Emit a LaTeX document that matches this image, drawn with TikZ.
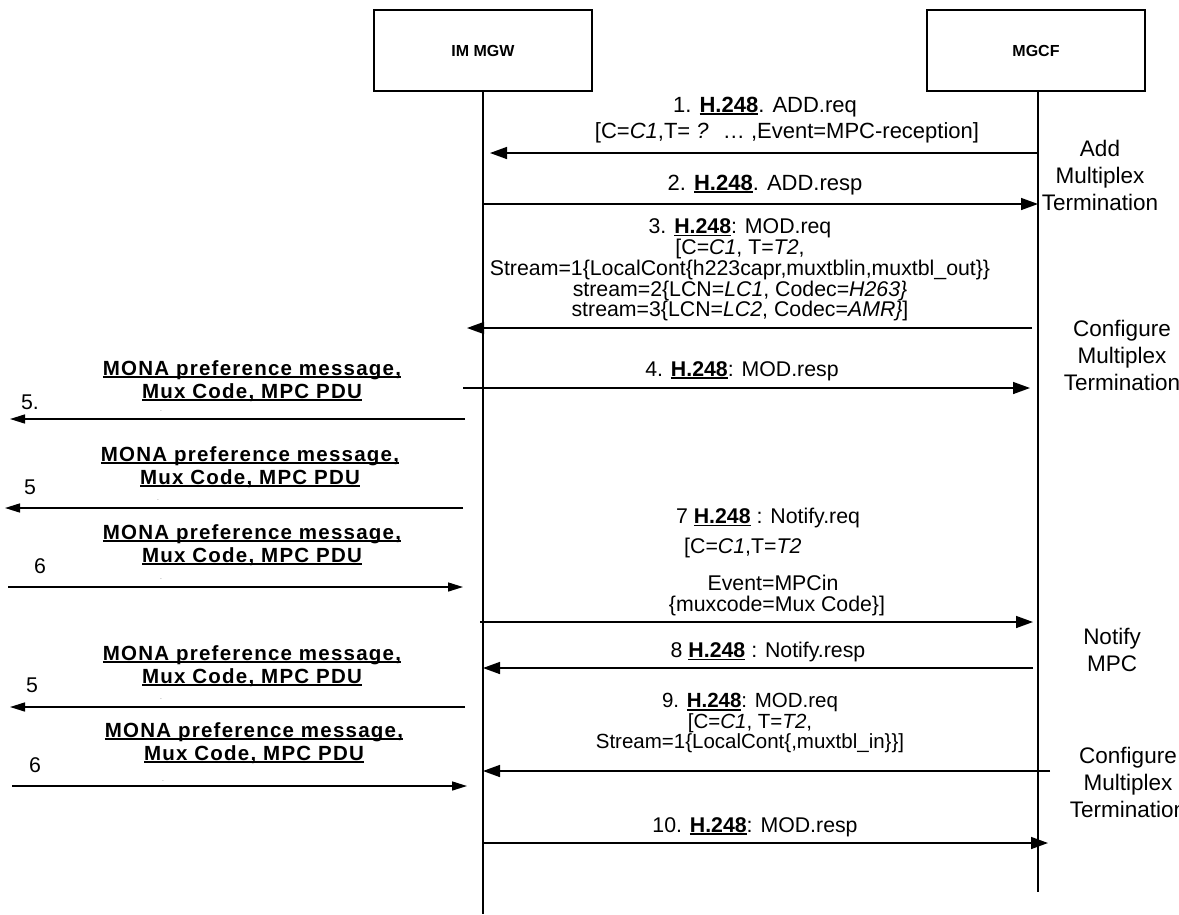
\documentclass[tikz,border=0pt]{standalone}
\usepackage{fontspec}
\setmainfont{Liberation Sans}
\newfontfamily\monafont[LetterSpace=6]{Liberation Sans}
\usetikzlibrary{arrows.meta}
\newsavebox{\ulbox}
\newcommand{\ulined}[1]{\sbox{\ulbox}{#1}\rlap{\usebox{\ulbox}}\rule[-2.6pt]{\wd\ulbox}{1.6pt}}
\newcommand{\hnum}{\ulined{\textbf{H.248}}}
\newcommand{\bigmsg}{\fontsize{22}{25}\selectfont}
\newcommand{\msgfont}{\fontsize{21.3}{19.5}\selectfont}
\newcommand{\smallmsg}{\fontsize{20.5}{17}\selectfont}
\newcommand{\sidefont}{\fontsize{22.5}{27}\selectfont}
\newcommand{\boxfont}{\fontsize{16}{19}\selectfont\bfseries}
\newcommand{\monatext}{\fontsize{20.5}{23}\monafont\bfseries}

\begin{document}
\begin{tikzpicture}[x=1pt, y=-1pt,
    entity/.style={draw, line width=1.4pt, minimum width=218pt, minimum height=81pt, font=\boxfont},
    life/.style={line width=1.6pt},
    msg/.style={line width=1.5pt, -{Triangle[length=17pt, width=12pt]}},
    extmsg/.style={line width=1.5pt, -{Triangle[length=15pt, width=9pt]}},
    biglbl/.style={font=\bigmsg, align=center, inner sep=0pt},
    lbl/.style={font=\msgfont, align=center, inner sep=0pt},
    sublbl/.style={font=\smallmsg, align=center, inner sep=0pt},
    mona/.style={font=\monatext, align=center, inner sep=0pt},
    side/.style={font=\sidefont, align=center, inner sep=0pt},
    numlbl/.style={font=\msgfont, inner sep=0pt},
    speck/.style={font=\tiny, inner sep=0pt}]
    \useasboundingbox[fill=white] (0,0) rectangle (1179,914);

    % Entities and lifelines
    \node[entity] (gw) at (483,50.5) {IM MGW};
    \node[entity] (mgcf) at (1036,50.5) {MGCF};
    \coordinate (gwend) at (483,914);
    \coordinate (mgcfend) at (1038,892);
    \draw[life] (gw.south) -- (gwend);
    \draw[life] ([xshift=2pt]mgcf.south) -- (mgcfend);

    % Add Multiplex Termination
    \coordinate (a1) at (1038,153);
    \coordinate (b1) at (490,153);
    \draw[msg] (a1) -- (b1);
    \node[biglbl] (m1) at (765,107) {1. \hnum. ADD.req};
    \node[biglbl] (m1b) at (787,133) {{[}C=\textit{C1},T= \textit{?} \ \ldots\ ,Event=MPC-reception]};
    \coordinate (a2) at (483,204);
    \coordinate (b2) at (1038,204);
    \draw[msg] (a2) -- (b2);
    \node[biglbl] (m2) at (765,185) {2. \hnum. ADD.resp};
    \node[side] (addmux) at (1100,175) {Add\\Multiplex\\Termination};

    % Configure Multiplex Termination
    \coordinate (a3) at (1032,328);
    \coordinate (b3) at (467,328);
    \draw[msg] (a3) -- (b3);
    \node[lbl] (m3) at (740,270) {3. \hnum: MOD.req\\
        {[}C=\textit{C1}, T=\textit{T2},\\
        Stream=1\{LocalCont\{h223capr,muxtblin,muxtbl\_out\}\}\\
        stream=2\{LCN=\textit{LC1}, Codec=\textit{H263\}}\\
        stream=3\{LCN=\textit{LC2}, Codec=\textit{AMR\}}]};
    \coordinate (a4) at (463,388);
    \coordinate (b4) at (1030,388);
    \draw[msg] (a4) -- (b4);
    \node[lbl] (m4) at (742,371) {4. \hnum: MOD.resp};
    \node[side] (confmux) at (1122,355) {Configure\\Multiplex\\Termination};

    % MONA exchange
    \coordinate (a5) at (465,419);
    \coordinate (b5) at (10,419);
    \draw[extmsg] (a5) -- (b5);
    \node[mona] (mona1) at (252,381) {\ulined{MONA preference message,}\\\ulined{Mux Code, MPC PDU}};
    \node[numlbl] (n5) at (30,402) {5.};
    \node[speck] (d5) at (161,411) {.};

    \coordinate (a5b) at (463,508);
    \coordinate (b5b) at (5,508);
    \draw[extmsg] (a5b) -- (b5b);
    \node[mona] (mona2) at (250,467) {\ulined{MONA preference message,}\\\ulined{Mux Code, MPC PDU}};
    \node[numlbl] (n5b) at (30,487) {5};
    \node[speck] (d5b) at (158,500) {.};

    \coordinate (a6) at (8,587);
    \coordinate (b6) at (463,587);
    \draw[extmsg] (a6) -- (b6);
    \node[mona] (mona3) at (252,545) {\ulined{MONA preference message,}\\\ulined{Mux Code, MPC PDU}};
    \node[numlbl] (n6) at (40,566) {6};
    \node[speck] (d6) at (161,579) {.};

    % Notify MPC
    \coordinate (a7) at (480,622);
    \coordinate (b7) at (1033,622);
    \draw[msg] (a7) -- (b7);
    \node[lbl] (m7) at (768,518) {7 \hnum\ : Notify.req};
    \node[lbl, anchor=west] (m7b) at (684,548) {{[}C=\textit{C1},T=\textit{T2}};
    \node[lbl] (m7c) at (773,583) {Event=MPCin};
    \node[lbl] (m7d) at (777,606) {\{muxcode=Mux Code\}]};
    \coordinate (a8) at (1033,668);
    \coordinate (b8) at (483,668);
    \draw[msg] (a8) -- (b8);
    \node[lbl] (m8) at (768,652) {8 \hnum\ : Notify.resp};
    \node[side] (notmpc) at (1112,650) {Notify\\MPC};

    \coordinate (a5c) at (465,707);
    \coordinate (b5c) at (10,707);
    \draw[extmsg] (a5c) -- (b5c);
    \node[mona] (mona4) at (252,666) {\ulined{MONA preference message,}\\\ulined{Mux Code, MPC PDU}};
    \node[numlbl] (n5c) at (32,685) {5};
    \node[speck] (d5c) at (161,699) {.};

    \coordinate (a6b) at (12,786);
    \coordinate (b6b) at (467,786);
    \draw[extmsg] (a6b) -- (b6b);
    \node[mona] (mona5) at (254,743) {\ulined{MONA preference message,}\\\ulined{Mux Code, MPC PDU}};
    \node[numlbl] (n6b) at (35,765) {6};
    \node[speck] (d6b) at (163,781) {.};

    % Configure Multiplex Termination again
    \coordinate (a9) at (1050,771);
    \coordinate (b9) at (483,771);
    \draw[msg] (a9) -- (b9);
    \node[sublbl] (m9) at (750,723) {9. \hnum: MOD.req\\
        {[}C=\textit{C1}, T=\textit{T2},\\
        Stream=1\{LocalCont\{,muxtbl\_in\}\}]};
    \coordinate (a10) at (483,843);
    \coordinate (b10) at (1048,843);
    \draw[msg] (a10) -- (b10);
    \node[lbl] (m10) at (755,827) {10. \hnum: MOD.resp};
    \node[side] (confmux2) at (1128,782) {Configure\\Multiplex\\Termination};
\end{tikzpicture}
\end{document}
